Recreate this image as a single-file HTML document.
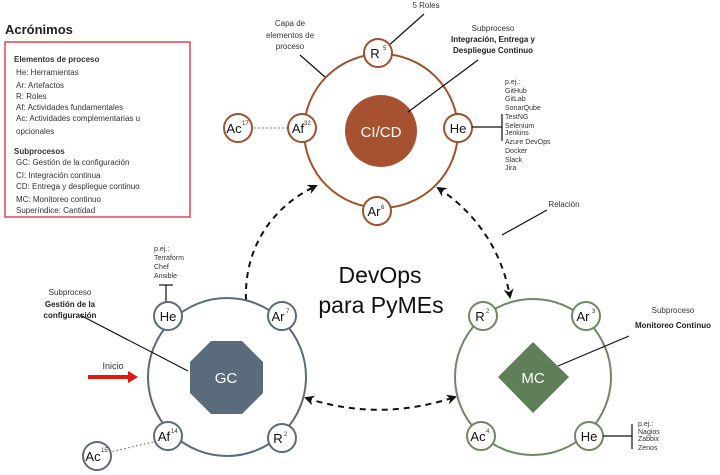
<!DOCTYPE html>
<html><head><meta charset="utf-8"><style>
html,body{margin:0;padding:0;background:#fff;}
svg{display:block;font-family:"Liberation Sans",sans-serif;}
</style></head><body>
<svg width="720" height="475" viewBox="0 0 720 475" xmlns="http://www.w3.org/2000/svg">
<defs>
<marker id="ah" viewBox="0 0 10 10" refX="8" refY="5" markerWidth="5" markerHeight="5" orient="auto-start-reverse"><path d="M0,0 L10,5 L0,10 L3,5 z" fill="#111"/></marker>
</defs>
<!-- Legend -->
<text x="5" y="34" font-size="13" font-weight="bold" fill="#222">Acrónimos</text>
<rect x="5" y="42" width="185" height="175" fill="none" stroke="#e0454f" stroke-width="1.5"/>
<g font-size="8" fill="#333">
<text x="14" y="62" font-weight="bold">Elementos de proceso</text>
<text x="16" y="75">He: Herramientas</text>
<text x="16" y="88">Ar: Artefactos</text>
<text x="16" y="99">R: Roles</text>
<text x="16" y="110">Af: Actividades fundamentales</text>
<text x="16" y="121">Ac: Actividades complementarias u</text>
<text x="16" y="134">opcionales</text>
<text x="14" y="154" font-weight="bold">Subprocesos</text>
<text x="16" y="165">GC: Gestión de la configuración</text>
<text x="16" y="178">CI: Integración continua</text>
<text x="16" y="189">CD: Entrega y despliegue continuo</text>
<text x="16" y="202">MC: Monitoreo continuo</text>
<text x="16" y="213">Superíndice: Cantidad</text>
</g>

<!-- Dashed arrows -->
<g fill="none" stroke="#111" stroke-width="2" stroke-dasharray="6,5">
<path d="M246,300 C244,245 275,205 316,186" marker-end="url(#ah)"/>
<path d="M438,188 C475,212 502,250 510,297" marker-start="url(#ah)" marker-end="url(#ah)"/>
<path d="M306,398 Q380,422 455,397" marker-start="url(#ah)" marker-end="url(#ah)"/>
</g>

<!-- Title -->
<text x="380" y="283" font-size="23" text-anchor="middle" fill="#111">DevOps</text>
<text x="381" y="313" font-size="23" text-anchor="middle" fill="#111">para PyMEs</text>

<!-- CI/CD -->
<line x1="325" y1="77" x2="300" y2="55" stroke="#111" stroke-width="1.2"/>
<text x="290" y="26" font-size="8" text-anchor="middle" fill="#333">Capa de</text>
<text x="290" y="38" font-size="8" text-anchor="middle" fill="#333">elementos de</text>
<text x="290" y="49" font-size="8" text-anchor="middle" fill="#333">proceso</text>
<circle cx="381" cy="131" r="77" fill="none" stroke="#a0522d" stroke-width="2"/>
<circle cx="381" cy="131" r="36" fill="#a65230"/>
<text x="381" y="137" font-size="15" text-anchor="middle" fill="#fff">CI/CD</text>
<line x1="408" y1="112" x2="478" y2="60" stroke="#111" stroke-width="1.2"/>
<line x1="387" y1="47" x2="424" y2="14" stroke="#111" stroke-width="1.2"/>
<text x="426" y="8" font-size="8" text-anchor="middle" fill="#333">5 Roles</text>
<text x="493" y="31" font-size="8" text-anchor="middle" fill="#333">Subproceso</text>
<text x="493" y="42" font-size="8" font-weight="bold" text-anchor="middle" fill="#222">Integración, Entrega y</text>
<text x="493" y="53" font-size="8" font-weight="bold" text-anchor="middle" fill="#222">Despliegue Continuo</text>
<line x1="238" y1="128" x2="288" y2="128" stroke="#555" stroke-dasharray="1.5,2.5"/>
<g fill="#fff" stroke="#a0522d" stroke-width="2">
<circle cx="378" cy="53" r="14"/><circle cx="458" cy="128" r="14"/>
<circle cx="377" cy="211" r="14"/><circle cx="302" cy="128" r="14"/><circle cx="238" cy="128" r="14"/>
</g>
<g font-size="13" fill="#111" text-anchor="middle">
<text x="375" y="58">R</text><text x="458" y="133">He</text><text x="374" y="216">Ar</text>
<text x="298" y="133">Af</text><text x="234" y="133">Ac</text>
</g>
<g font-size="6" fill="#333">
<text x="383" y="50">5</text><text x="381" y="209">6</text><text x="304" y="125">32</text><text x="242" y="125">17</text>
</g>
<line x1="472" y1="127" x2="502" y2="127" stroke="#111" stroke-width="1.2"/>
<line x1="502" y1="114" x2="502" y2="141" stroke="#111" stroke-width="1.2"/>
<g font-size="7" fill="#333">
<text x="505" y="84">p.ej.:</text><text x="505" y="93">GitHub</text><text x="505" y="101">GitLab</text>
<text x="505" y="110">SonarQube</text><text x="505" y="119">TestNG</text><text x="505" y="128">Selenium</text>
<text x="505" y="135">Jenkins</text><text x="505" y="144">Azure DevOps</text><text x="505" y="153">Docker</text>
<text x="505" y="162">Slack</text><text x="505" y="170">Jira</text>
</g>
<line x1="502" y1="235" x2="547" y2="210" stroke="#111" stroke-width="1.2"/>
<text x="564" y="207" font-size="8" text-anchor="middle" fill="#333">Relación</text>

<!-- GC -->
<circle cx="227" cy="377" r="79" fill="none" stroke="#5b6b7c" stroke-width="2"/>
<polygon points="211,341 242,341 263,362 263,393 242,414 211,414 190,393 190,362" fill="#5a6b7b"/>
<text x="226" y="383" font-size="15" text-anchor="middle" fill="#fff">GC</text>
<line x1="188" y1="371" x2="80" y2="315" stroke="#111" stroke-width="1.2"/>
<text x="70" y="295" font-size="8" text-anchor="middle" fill="#333">Subproceso</text>
<text x="70" y="307" font-size="8" font-weight="bold" text-anchor="middle" fill="#222">Gestión de la</text>
<text x="70" y="318" font-size="8" font-weight="bold" text-anchor="middle" fill="#222">configuración</text>
<line x1="88" y1="377" x2="130" y2="377" stroke="#e0180e" stroke-width="4"/>
<polygon points="128,371 138,377 128,383" fill="#e0180e"/>
<text x="113" y="369" font-size="9" text-anchor="middle" fill="#333">Inicio</text>
<line x1="166" y1="302" x2="166" y2="285" stroke="#111" stroke-width="1.2"/>
<line x1="159" y1="285" x2="173" y2="285" stroke="#111" stroke-width="1.2"/>
<g font-size="7" fill="#333">
<text x="154" y="251">p.ej.:</text><text x="154" y="260">Terraform</text><text x="154" y="269">Chef</text><text x="154" y="278">Ansible</text>
</g>
<line x1="97" y1="455" x2="162" y2="440" stroke="#555" stroke-dasharray="1.5,2.5"/>
<g fill="#fff" stroke="#5b6b7c" stroke-width="2">
<circle cx="168" cy="316" r="14"/><circle cx="282" cy="316" r="14"/>
<circle cx="168" cy="436" r="14"/><circle cx="282" cy="438" r="14"/><circle cx="97" cy="456" r="14"/>
</g>
<g font-size="13" fill="#111" text-anchor="middle">
<text x="168" y="321">He</text><text x="278" y="321">Ar</text><text x="164" y="441">Af</text>
<text x="278" y="443">R</text><text x="93" y="461">Ac</text>
</g>
<g font-size="6" fill="#333">
<text x="286" y="313">7</text><text x="171" y="433">14</text><text x="284" y="436">2</text><text x="101" y="452">15</text>
</g>

<!-- MC -->
<circle cx="533" cy="377" r="78" fill="none" stroke="#6b8a62" stroke-width="2"/>
<polygon points="533,342 569,377 533,413 498,377" fill="#5f7f58"/>
<text x="533" y="383" font-size="15" text-anchor="middle" fill="#fff">MC</text>
<line x1="558" y1="366" x2="629" y2="336" stroke="#111" stroke-width="1.2"/>
<text x="673" y="313" font-size="8" text-anchor="middle" fill="#333">Subproceso</text>
<text x="673" y="328" font-size="8" font-weight="bold" text-anchor="middle" fill="#222">Monitoreo Continuo</text>
<g fill="#fff" stroke="#6b8a62" stroke-width="2">
<circle cx="483" cy="316" r="14"/><circle cx="586" cy="316" r="14"/>
<circle cx="481" cy="436" r="14"/><circle cx="589" cy="436" r="14"/>
</g>
<g font-size="13" fill="#111" text-anchor="middle">
<text x="480" y="321">R</text><text x="583" y="321">Ar</text><text x="478" y="441">Ac</text><text x="589" y="441">He</text>
</g>
<g font-size="6" fill="#333">
<text x="486" y="313">2</text><text x="592" y="313">3</text><text x="486" y="433">4</text>
</g>
<line x1="603" y1="436" x2="632" y2="436" stroke="#111" stroke-width="1.2"/>
<line x1="632" y1="424" x2="632" y2="449" stroke="#111" stroke-width="1.2"/>
<g font-size="7" fill="#333">
<text x="638" y="426">p.ej.:</text><text x="638" y="434">Nagios</text><text x="638" y="441">Zabbix</text><text x="638" y="450">Zenos</text>
</g>
</svg>
</body></html>
